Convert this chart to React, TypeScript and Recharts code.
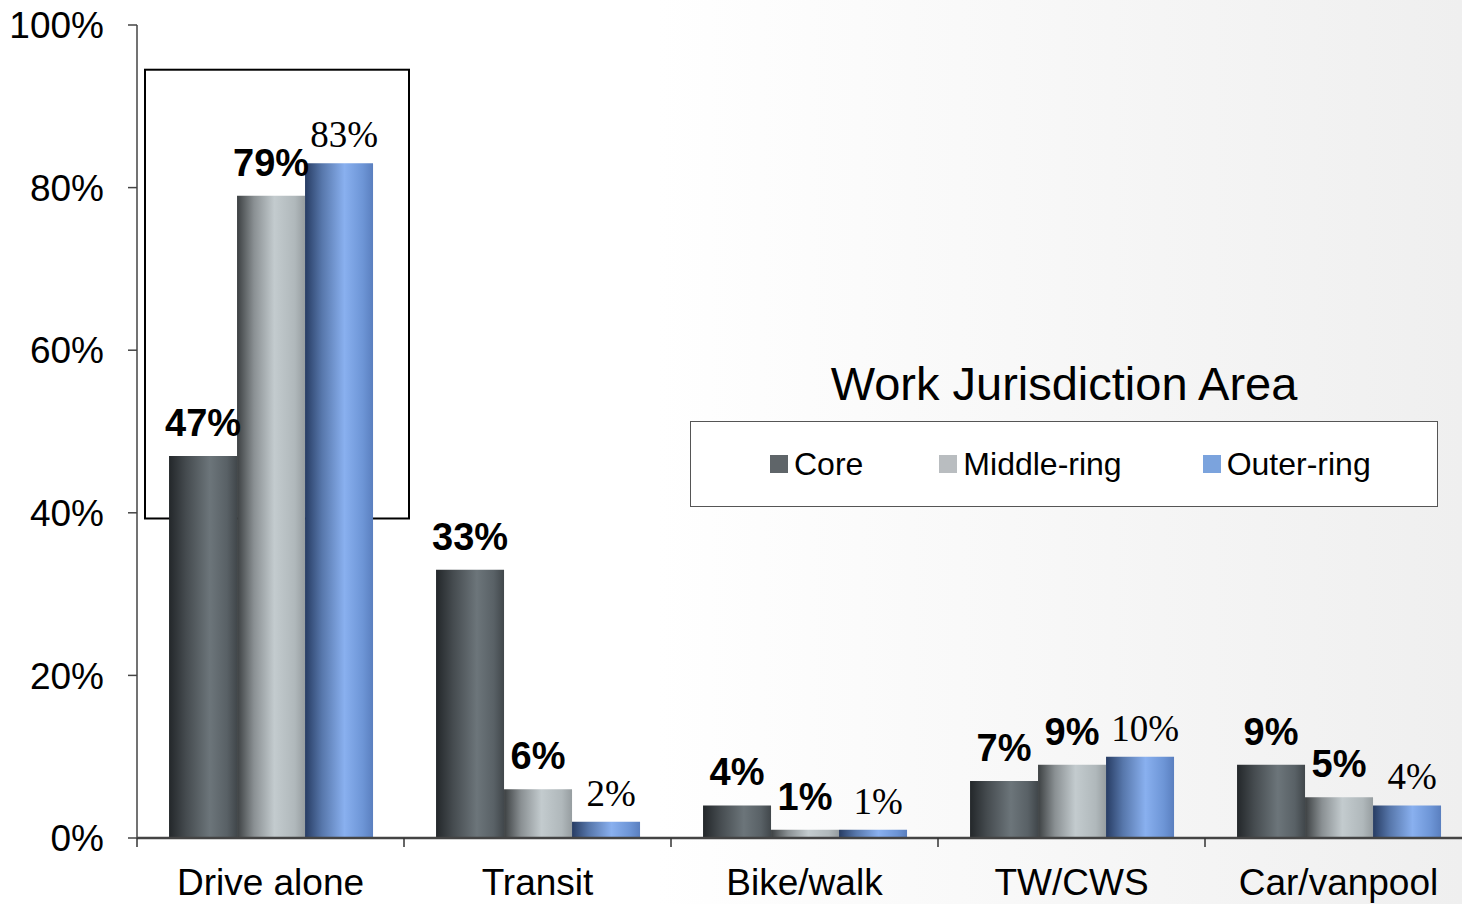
import { BarChart, Bar, XAxis, YAxis, LabelList, Legend, ReferenceArea } from "recharts";

const modes = ["Drive alone", "Transit", "Bike/walk", "TW/CWS", "Car/vanpool"];
const core = [47, 33, 4, 7, 9];
const middleRing = [79, 6, 1, 9, 5];
const outerRing = [83, 2, 1, 10, 4];
const yTicks = [0, 20, 40, 60, 80, 100];

const series = [
  { key: "core", name: "Core", swatch: "#5f6569", fill: "url(#gCore)", gap: 76 },
  { key: "middle", name: "Middle-ring", swatch: "#b9bdc0", fill: "url(#gMiddle)", gap: 81 },
  { key: "outer", name: "Outer-ring", swatch: "#7ba3dd", fill: "url(#gOuter)", gap: 0 },
];

const data = modes.map((mode, i) => ({
  mode,
  core: core[i],
  middle: middleRing[i],
  outer: outerRing[i],
}));

const sans = "'Liberation Sans', Arial, sans-serif";
const serif = "'Liberation Serif', 'Times New Roman', serif";

const W = 1480;
const H = 904;

function XTick(props: any) {
  const { x, y, payload } = props;
  const half = payload?.offset ?? (W - 8 - 137) / modes.length / 2;
  return (
    <g>
      <line x1={x - half} x2={x - half} y1={y - 8} y2={y + 1} stroke="#333" strokeWidth={1.5} />
      <text x={x} y={y + 49} textAnchor="middle" fontSize={37} fontFamily={sans} fill="#000">
        {payload.value}
      </text>
    </g>
  );
}

function LegendBox() {
  return (
    <div style={{ fontFamily: sans, width: 748 }}>
      <div style={{ textAlign: "center", fontSize: 47, lineHeight: "54px", color: "#000", marginBottom: 10, whiteSpace: "nowrap" }}>
        Work Jurisdiction Area
      </div>
      <div
        style={{
          boxSizing: "border-box",
          height: 86,
          background: "#fff",
          border: "1.5px solid #555",
          display: "flex",
          alignItems: "center",
          paddingLeft: 79,
          fontSize: 32,
          whiteSpace: "nowrap",
        }}
      >
        {series.map((s) => (
          <div key={s.key} style={{ display: "flex", alignItems: "center", marginRight: s.gap, flexShrink: 0 }}>
            <span style={{ width: 18, height: 18, background: s.swatch, display: "inline-block", marginRight: 6 }} />
            <span>{s.name}</span>
          </div>
        ))}
      </div>
    </div>
  );
}

export default function App() {
  return (
    <div
      style={{
        position: "fixed",
        left: 0,
        top: 0,
        width: 1462,
        height: 904,
        overflow: "hidden",
        background: "linear-gradient(to right, #ffffff 0%, #ffffff 45%, #efefef 100%)",
      }}
    >
      <BarChart
        width={W}
        height={H}
        data={data}
        margin={{ top: 25, right: 8, bottom: 6, left: 0 }}
        barCategoryGap="12%"
        barGap={0}
        style={{ fontFamily: sans }}
      >
        <defs>
          <linearGradient id="gCore" x1="0" y1="0" x2="1" y2="0">
            <stop offset="0%" stopColor="#23272a" />
            <stop offset="25%" stopColor="#454b4f" />
            <stop offset="60%" stopColor="#6c757a" />
            <stop offset="85%" stopColor="#596166" />
            <stop offset="100%" stopColor="#41474b" />
          </linearGradient>
          <linearGradient id="gMiddle" x1="0" y1="0" x2="1" y2="0">
            <stop offset="0%" stopColor="#3c4042" />
            <stop offset="25%" stopColor="#8a9093" />
            <stop offset="55%" stopColor="#c3cbce" />
            <stop offset="85%" stopColor="#b0b8bb" />
            <stop offset="100%" stopColor="#969da0" />
          </linearGradient>
          <linearGradient id="gOuter" x1="0" y1="0" x2="1" y2="0">
            <stop offset="0%" stopColor="#273c63" />
            <stop offset="25%" stopColor="#5777ab" />
            <stop offset="58%" stopColor="#89b0ef" />
            <stop offset="85%" stopColor="#6d95d6" />
            <stop offset="100%" stopColor="#5a7fbf" />
          </linearGradient>
        </defs>
        <XAxis
          dataKey="mode"
          height={60}
          tickLine={false}
          tickSize={8}
          tickMargin={0}
          interval={0}
          axisLine={{ stroke: "#444", strokeWidth: 2.5 }}
          tick={<XTick />}
        />
        <YAxis
          width={137}
          domain={[0, 100]}
          ticks={yTicks}
          tickFormatter={(v) => `${v}%`}
          tickSize={9}
          tickMargin={24}
          tickLine={{ stroke: "#444", strokeWidth: 1.5 }}
          axisLine={{ stroke: "#444", strokeWidth: 1.5 }}
          tick={{ fontSize: 37, fill: "#000", fontFamily: sans }}
        />
        {series.map((s) => (
          <Bar key={s.key} dataKey={s.key} name={s.name} fill={s.fill} isAnimationActive={false}>
            <LabelList
              dataKey={s.key}
              position="top"
              offset={s.key === "outer" ? 16 : 20}
              dx={s.key === "outer" ? 5 : 0}
              formatter={(v: any) => `${v}%`}
              fontSize={s.key === "outer" ? 37 : 38}
              fontWeight={s.key === "outer" ? "normal" : "bold"}
              fontFamily={s.key === "outer" ? serif : sans}
              fill="#000"
            />
          </Bar>
        ))}
        <ReferenceArea
          x1="Drive alone"
          x2="Drive alone"
          y1={39.3}
          y2={94.5}
          ifOverflow="visible"
          shape={(p: any) => (
            <rect
              x={p.x + 8}
              y={p.y}
              width={p.width - 3}
              height={p.height}
              fill="none"
              stroke="#000"
              strokeWidth={2}
            />
          )}
        />
        <Legend
          layout="horizontal"
          verticalAlign="middle"
          align="center"
          wrapperStyle={{ left: 690, top: 357, width: 748 }}
          content={() => <LegendBox />}
        />
      </BarChart>
    </div>
  );
}
